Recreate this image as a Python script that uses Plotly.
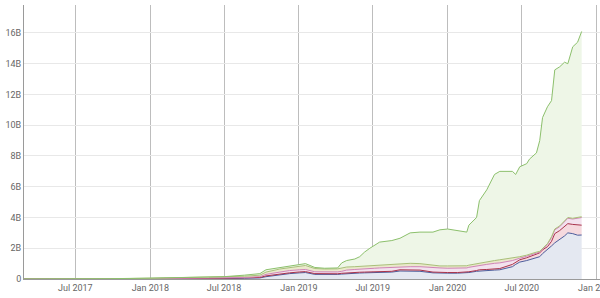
import plotly.graph_objects as go

dates = [
    "2017-02-25", "2017-07-01", "2017-09-25", "2018-01-01", "2018-05-03", "2018-07-01",
    "2018-08-20", "2018-09-27", "2018-10-12", "2018-11-15", "2018-12-09", "2019-01-03",
    "2019-01-17", "2019-02-09", "2019-03-05", "2019-04-06", "2019-04-16", "2019-04-28",
    "2019-05-18", "2019-05-30", "2019-06-11", "2019-06-24", "2019-07-06", "2019-07-18",
    "2019-08-17", "2019-09-06", "2019-10-01", "2019-10-25", "2019-11-26", "2019-12-13",
    "2020-01-01", "2020-01-25", "2020-02-17", "2020-02-22", "2020-03-12", "2020-03-19",
    "2020-04-06", "2020-04-25", "2020-05-08", "2020-06-08", "2020-06-16", "2020-06-26",
    "2020-07-13", "2020-07-20", "2020-08-06", "2020-08-14", "2020-08-21", "2020-09-02",
    "2020-09-12", "2020-09-20", "2020-10-02", "2020-10-14", "2020-10-22", "2020-11-03",
    "2020-11-15", "2020-11-25",
]

# cumulative levels (billions USD), bottom to top
blue = [0, 0, 0.005, 0.01, 0.02, 0.03, 0.05, 0.07, 0.15, 0.28, 0.35, 0.40,
        0.42, 0.30, 0.28, 0.30, 0.32, 0.35, 0.37, 0.39, 0.40, 0.41, 0.42, 0.43,
        0.45, 0.52, 0.52, 0.50, 0.40, 0.38, 0.38, 0.38, 0.40, 0.42, 0.50, 0.52,
        0.55, 0.58, 0.60, 0.80, 0.95, 1.10, 1.20, 1.25, 1.35, 1.45, 1.65, 1.90,
        2.15, 2.35, 2.55, 2.80, 3.00, 2.95, 2.85, 2.86]
red = [0, 0, 0.008, 0.02, 0.04, 0.05, 0.07, 0.10, 0.20, 0.33, 0.40, 0.46,
       0.48, 0.35, 0.33, 0.34, 0.37, 0.40, 0.42, 0.44, 0.45, 0.46, 0.47, 0.48,
       0.50, 0.60, 0.60, 0.58, 0.45, 0.42, 0.42, 0.42, 0.44, 0.47, 0.55, 0.60,
       0.62, 0.65, 0.68, 0.95, 1.10, 1.25, 1.38, 1.45, 1.60, 1.70, 1.90, 2.10,
       2.45, 2.95, 3.15, 3.40, 3.60, 3.55, 3.50, 3.50]
pink = [0, 0, 0.01, 0.03, 0.06, 0.07, 0.10, 0.15, 0.30, 0.45, 0.55, 0.60,
        0.62, 0.47, 0.45, 0.46, 0.50, 0.58, 0.62, 0.65, 0.67, 0.68, 0.70, 0.72,
        0.76, 0.80, 0.80, 0.80, 0.72, 0.72, 0.70, 0.70, 0.72, 0.76, 0.85, 0.90,
        0.95, 1.02, 1.05, 1.20, 1.25, 1.35, 1.48, 1.55, 1.70, 1.75, 1.95, 2.25,
        2.70, 3.20, 3.40, 3.70, 3.95, 3.90, 3.95, 4.00]
olive = [0, 0, 0.015, 0.05, 0.10, 0.12, 0.18, 0.25, 0.45, 0.65, 0.75, 0.82,
         0.88, 0.68, 0.65, 0.66, 0.72, 0.78, 0.80, 0.82, 0.84, 0.85, 0.86, 0.88,
         0.95, 1.00, 1.02, 1.00, 0.88, 0.85, 0.85, 0.84, 0.86, 0.90, 1.00, 1.05,
         1.10, 1.20, 1.25, 1.35, 1.40, 1.45, 1.55, 1.62, 1.75, 1.80, 2.00, 2.30,
         2.75, 3.25, 3.45, 3.75, 4.00, 3.95, 4.00, 4.05]
green = [0, 0, 0.02, 0.06, 0.12, 0.15, 0.25, 0.35, 0.60, 0.75, 0.85, 0.92,
         1.00, 0.75, 0.70, 0.72, 1.05, 1.20, 1.30, 1.45, 1.75, 2.00, 2.20, 2.40,
         2.50, 2.65, 3.00, 3.05, 3.05, 3.20, 3.25, 3.15, 3.05, 3.50, 4.00, 5.10,
         5.80, 6.80, 7.00, 7.00, 6.80, 7.30, 7.50, 7.80, 8.20, 9.00, 10.50, 11.20,
         11.60, 13.60, 13.80, 14.10, 14.00, 15.10, 15.40, 16.10]

y_tickvals = [0, 2, 4, 6, 8, 10, 12, 14, 16]
y_ticktext = ["0", "2B", "4B", "6B", "8B", "10B", "12B", "14B", "16B"]

series = [
    ("blue", blue, "#4b5d9c", "#e4e8f1", "tozeroy"),
    ("red", red, "#a8324a", "#f5d9de", "tonexty"),
    ("pink", pink, "#d083b8", "#f3e2ee", "tonexty"),
    ("olive", olive, "#a9bf78", "#eae8cc", "tonexty"),
    ("green", green, "#8cc06c", "#eef6e7", "tonexty"),
]

fig = go.Figure()
for name, vals, lc, fc, fill in series:
    fig.add_trace(go.Scatter(
        x=dates, y=vals, name=name, mode="lines",
        line=dict(color=lc, width=1), fill=fill, fillcolor=fc,
        hoverinfo="skip",
    ))

fig.update_layout(
    width=600, height=298,
    margin=dict(l=24, r=0, t=5, b=19),
    paper_bgcolor="white", plot_bgcolor="white",
    showlegend=False,
    font=dict(family="Roboto", size=9, color="#666666"),
    xaxis=dict(
        type="date", range=["2017-02-25", "2021-01-09"],
        tick0="2017-07-01", dtick="M6", tickformat="%b %Y",
        showgrid=True, gridcolor="#bdbdbd", gridwidth=1,
        showline=True, linecolor="#9a9a9a", linewidth=1,
        ticks="", zeroline=False, tickfont=dict(size=9, color="#666666"),
        ticklabeloverflow="allow", automargin=False,
    ),
    yaxis=dict(
        range=[0, 17.82], tickvals=y_tickvals, ticktext=y_ticktext,
        showgrid=True, gridcolor="#e8e8e8", gridwidth=1,
        showline=True, linecolor="#9a9a9a", linewidth=1,
        ticks="", zeroline=False, tickfont=dict(size=9, color="#666666"),
        automargin=False,
    ),
)

fig.write_html("out.html")
